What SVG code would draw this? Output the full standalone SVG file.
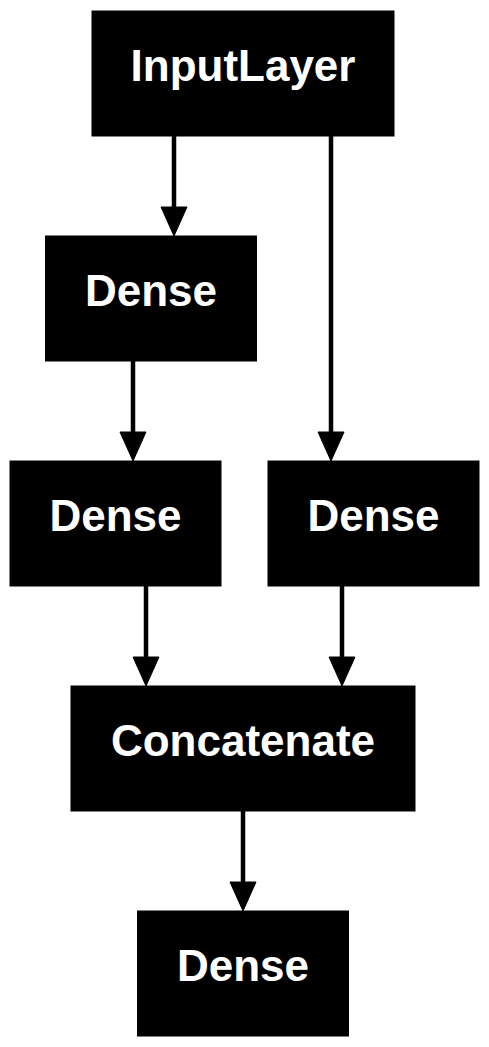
<svg xmlns="http://www.w3.org/2000/svg" width="489" height="1047" viewBox="0 0 489 1047">
<style>
.n{fill:#000;stroke:#000;stroke-width:1}
.t{fill:#fff;font-family:"Liberation Sans",Arial,sans-serif;font-weight:bold;font-size:44px;text-anchor:middle}
.e{stroke:#000;stroke-width:4.5;fill:none}
.h{fill:#000;stroke:#000;stroke-width:1}
</style>
<rect width="489" height="1047" fill="#fff"/>
<g id="edges">
<line class="e" x1="174" y1="136" x2="174" y2="208"/>
<polygon class="h" points="161,207 187,207 174,236"/>
<line class="e" x1="331" y1="136" x2="331" y2="433"/>
<polygon class="h" points="318,432 344,432 331,461"/>
<line class="e" x1="133" y1="361" x2="133" y2="433"/>
<polygon class="h" points="120,432 146,432 133,461"/>
<line class="e" x1="146" y1="586" x2="146" y2="658"/>
<polygon class="h" points="133,657 159,657 146,686"/>
<line class="e" x1="342" y1="586" x2="342" y2="658"/>
<polygon class="h" points="329,657 355,657 342,686"/>
<line class="e" x1="243" y1="811" x2="243" y2="883"/>
<polygon class="h" points="230,882 256,882 243,911"/>
</g>
<g id="input"><rect class="n" x="92" y="11" width="302" height="125"/><text class="t" x="243" y="81">InputLayer</text></g>
<g id="dense1"><rect class="n" x="45.5" y="236" width="211" height="125"/><text class="t" x="151" y="306">Dense</text></g>
<g id="dense2"><rect class="n" x="10" y="461" width="211" height="125"/><text class="t" x="115.5" y="531">Dense</text></g>
<g id="dense3"><rect class="n" x="268" y="461" width="211" height="125"/><text class="t" x="373.5" y="531">Dense</text></g>
<g id="concat"><rect class="n" x="71" y="686" width="344" height="125"/><text class="t" x="243" y="756">Concatenate</text></g>
<g id="dense4"><rect class="n" x="137.5" y="911" width="211" height="125"/><text class="t" x="243" y="981">Dense</text></g>
</svg>
